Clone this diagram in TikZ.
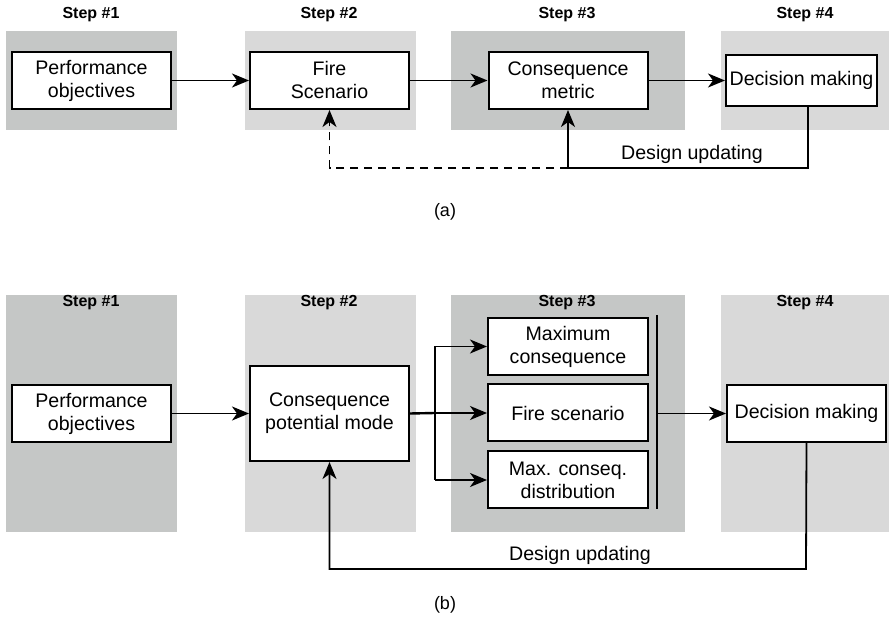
\documentclass[tikz,border=0pt]{standalone}
\usepackage{fontspec}
\setmainfont{Liberation Sans}
\usepackage{tikz}
\usetikzlibrary{arrows.meta}
\usetikzlibrary{positioning}
\definecolor{stepdark}{RGB}{197,199,198}
\definecolor{steplight}{RGB}{217,217,217}

\begin{document}
\begin{tikzpicture}[x=0.5pt,y=-0.5pt]
		\tikzset{box/.style={draw=black,line width=1pt,fill=white,align=center,inner sep=0pt,
				font=\fontsize{9.8}{11.5}\selectfont,minimum width=79.5pt,minimum height=28.5pt}}
		\tikzset{steplbl/.style={font=\fontsize{8}{9}\selectfont\bfseries}}
		\tikzset{flow/.style={line width=0.9pt,-{Stealth[length=8.5pt,width=7pt,inset=2.5pt]}}}
		\tikzset{plain/.style={line width=0.9pt}}
		\useasboundingbox (0,0) rectangle (889,619);
		% panel (a): backgrounds
		\fill[stepdark] (6,31) rectangle (177,130);
		\fill[steplight] (245,31) rectangle (416,130);
		\fill[stepdark] (451,31) rectangle (685,130);
		\fill[steplight] (721,31) rectangle (889,130);
		\node[steplbl] (sa1) at (91,15) {Step \#1};
		\node[steplbl] (sa2) at (329,15) {Step \#2};
		\node[steplbl] (sa3) at (567,15) {Step \#3};
		\node[steplbl] (sa4) at (805,15) {Step \#4};
		% panel (a): boxes
		\node[box] (perfA) at (91.5,80.5) {Performance\\objectives};
		\node[box] (fireA) at (329.5,80.5) {Fire\\Scenario};
		\node[box] (metricA) at (568,80.5) {Consequence\\metric};
		\node[box,minimum width=75.5pt,minimum height=25.5pt] (decA) at (801.5,80.5) {Decision making};
		\draw[flow] (perfA) -- (fireA);
		\draw[flow] (fireA) -- (metricA);
		\draw[flow] (metricA) -- (decA);
		\coordinate (fbA) at (808,168);
		\coordinate (fbB) at (568,168);
		\draw[flow,dashed,dash pattern=on 4pt off 3pt] (fbB) -| (fireA.south);
		\draw[flow] (decA.south -| fbA) -- (fbA) -- (fbB) -- (metricA.south);
		\node[font=\fontsize{9.8}{11.5}\selectfont] (updA) at (692,154) {Design updating};
		\node[font=\fontsize{9}{11}\selectfont] (capA) at (445,212) {(a)};
		% panel (b): backgrounds
		\fill[stepdark] (6,295) rectangle (177,532);
		\fill[steplight] (245,295) rectangle (416,532);
		\fill[stepdark] (451,295) rectangle (685,532);
		\fill[steplight] (721,295) rectangle (889,532);
		\node[steplbl] (sb1) at (91,303) {Step \#1};
		\node[steplbl] (sb2) at (329,303) {Step \#2};
		\node[steplbl] (sb3) at (567,303) {Step \#3};
		\node[steplbl] (sb4) at (805,303) {Step \#4};
		% panel (b): boxes
		\node[box] (perfB) at (91.5,413.5) {Performance\\objectives};
		\node[box,minimum height=47.5pt] (modeB) at (329.5,413.5) {Consequence\\potential mode};
		\node[box,minimum width=80pt] (maxB) at (568,346.5) {Maximum\\consequence};
		\node[box,minimum width=80pt] (fireB) at (568,413) {Fire scenario};
		\node[box,minimum width=80pt] (distB) at (568,480) {Max. conseq.\\distribution};
		\node[box] (decB) at (806.5,413.5) {Decision making};
		\draw[flow] (perfB) -- (modeB);
		\coordinate (brB) at (435,413);
		\draw[plain,line width=1.2pt] (modeB.east) -- (brB);
		\draw[flow] (brB |- maxB) -- (maxB);
		\draw[flow] (brB) -- (fireB);
		\draw[flow] (brB |- distB) -- (distB);
		\draw[plain] (brB |- maxB) -- (brB |- distB);
		\coordinate (barT) at (657,315);
		\coordinate (barB) at (657,509);
		\draw[line width=1pt] (barT) -- (barB);
		\draw[flow] (barT |- decB) -- (decB);
		\coordinate (fbC) at (806,569);
		\draw[flow] (decB.south) -- (fbC) -| (modeB.south);
		\node[font=\fontsize{9.8}{11.5}\selectfont] (updB) at (580,555) {Design updating};
		\node[font=\fontsize{9}{11}\selectfont] (capB) at (445,605) {(b)};
\end{tikzpicture}
\end{document}
